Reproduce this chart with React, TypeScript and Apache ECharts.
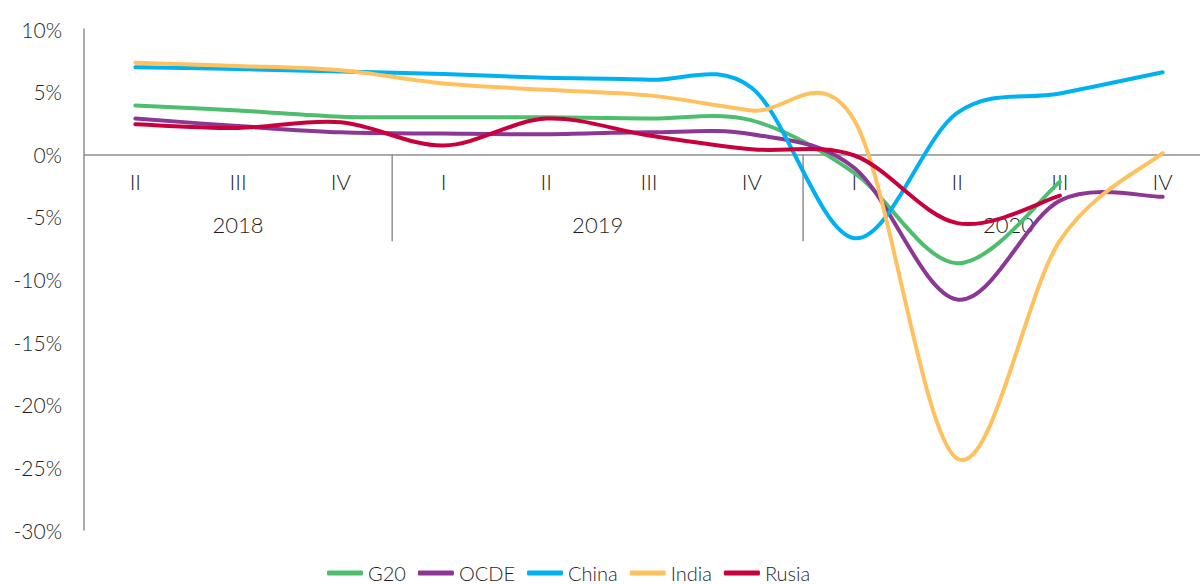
import React, { useEffect, useRef } from "react";
import * as echarts from "echarts";

const quarters = ["II", "III", "IV", "I", "II", "III", "IV", "I", "II", "III", "IV"];
const years = ["2018", "2019", "2020"];
const yearSpans = [3, 4, 4];

const g20 = [3.9, 3.5, 3.0, 2.95, 2.95, 2.85, 2.7, -1.5, -8.7, -2.2, null];
const ocde = [2.85, 2.25, 1.75, 1.65, 1.6, 1.75, 1.6, -1.1, -11.6, -3.7, -3.4];
const china = [6.95, 6.8, 6.6, 6.4, 6.1, 5.95, 5.3, -6.7, 3.3, 4.85, 6.55];
const india = [7.3, 7.05, 6.7, 5.65, 5.15, 4.7, 3.5, 2.7, -24.3, -6.9, 0.1];
const rusia = [2.4, 2.1, 2.55, 0.7, 2.85, 1.5, 0.4, -0.1, -5.5, -3.3, null];

const seriesNames = ["G20", "OCDE", "China", "India", "Rusia"];
const seriesData = [g20, ocde, china, india, rusia];
const colors = ["#4DBE6E", "#8C3795", "#00B0F0", "#FFC15E", "#C8003C"];

const FONT = "Lato, 'Open Sans', sans-serif";
const TEXT = "#1f1f1f";

function smoothPath(pts: number[][]): string {
  if (!pts.length) return "";
  let d = `M${pts[0][0]},${pts[0][1]}`;
  for (let i = 0; i < pts.length - 1; i++) {
    const p0 = pts[i - 1] || pts[i];
    const p1 = pts[i];
    const p2 = pts[i + 1];
    const p3 = pts[i + 2] || pts[i + 1];
    const c1x = p1[0] + (p2[0] - p0[0]) / 6;
    const c1y = p1[1] + (p2[1] - p0[1]) / 6;
    const c2x = p2[0] - (p3[0] - p1[0]) / 6;
    const c2y = p2[1] - (p3[1] - p1[1]) / 6;
    d += ` C${c1x},${c1y} ${c2x},${c2y} ${p2[0]},${p2[1]}`;
  }
  return d;
}

export default function App() {
  const ref = useRef<HTMLDivElement>(null);
  useEffect(() => {
    if (!ref.current) return;
    const chart = echarts.init(ref.current, null, { renderer: "svg" });
    chart.setOption({
      animation: false,
      color: colors,
      grid: { left: 84, top: 29, height: 501, width: 1130, outerBoundsMode: "none", containLabel: false },
      legend: {
        left: 327,
        top: 563,
        padding: 0,
        itemWidth: 36,
        itemHeight: 5,
        itemGap: 12,
        icon: "roundRect",
        textStyle: { fontFamily: FONT, fontSize: 20, fontWeight: 300, color: TEXT },
        data: seriesNames,
      },
      xAxis: {
        type: "category",
        data: quarters,
        boundaryGap: true,
        axisLine: { onZero: true, lineStyle: { color: "#8f8f8f", width: 1.5 } },
        axisTick: { show: false },
        axisLabel: { show: false },
        splitLine: { show: false },
      },
      yAxis: {
        type: "value",
        min: -30,
        max: 10,
        interval: 5,
        axisLine: { show: true, lineStyle: { color: "#8f8f8f", width: 1.5 } },
        axisTick: { show: false },
        splitLine: { show: false },
        axisLabel: {
          margin: 22,
          fontFamily: FONT,
          fontSize: 21,
          fontWeight: 300,
          color: TEXT,
          formatter: (v: number) => `${v}%`,
        },
      },
      series: seriesNames.map((name, k) => {
        const vals = seriesData[k];
        const data = vals
          .map((v, i) => (v === null ? null : [i, v]))
          .filter((p) => p !== null);
        return {
          name,
          type: "custom",
          data,
          encode: { x: 0, y: 1 },
          clip: false,
          z: 2 + k,
          itemStyle: { color: colors[k] },
          renderItem: (params: any, api: any) => {
            if (params.dataIndex !== 0) return null;
            const pts = (data as number[][]).map((p) => api.coord([p[0], p[1]]) as number[]);
            return {
              type: "path",
              shape: { pathData: smoothPath(pts) },
              style: {
                stroke: colors[k],
                lineWidth: 4,
                fill: "none",
                lineCap: "round",
                lineJoin: "round",
              },
            };
          },
        };
      }),
    });

    const px = (idx: number) => chart.convertToPixel({ xAxisIndex: 0 }, idx) as number;
    const zeroY = chart.convertToPixel({ yAxisIndex: 0 }, 0) as number;
    const elements: any[] = [];
    quarters.forEach((q, i) => {
      elements.push({
        type: "text",
        x: px(i),
        y: zeroY + 27,
        style: {
          text: q,
          fontFamily: FONT,
          fontSize: 22,
          fontWeight: 300,
          fill: TEXT,
          align: "center",
          verticalAlign: "middle",
        },
      });
    });
    let start = 0;
    years.forEach((yr, k) => {
      const span = yearSpans[k];
      const end = start + span - 1;
      const cx = (px(start) + px(end)) / 2;
      elements.push({
        type: "text",
        x: cx,
        y: zeroY + 70,
        style: {
          text: yr,
          fontFamily: FONT,
          fontSize: 22,
          fontWeight: 300,
          fill: TEXT,
          align: "center",
          verticalAlign: "middle",
        },
      });
      if (k > 0) {
        const bx = (px(start - 1) + px(start)) / 2;
        elements.push({
          type: "line",
          shape: { x1: bx, y1: zeroY, x2: bx, y2: zeroY + 87 },
          style: { stroke: "#8f8f8f", lineWidth: 1.5 },
        });
      }
      start += span;
    });
    chart.setOption({ graphic: elements });

    return () => chart.dispose();
  }, []);
  return (
    <div
      ref={ref}
      style={{ position: "fixed", left: 0, top: 0, width: 1200, height: 584, background: "#fff" }}
    />
  );
}
